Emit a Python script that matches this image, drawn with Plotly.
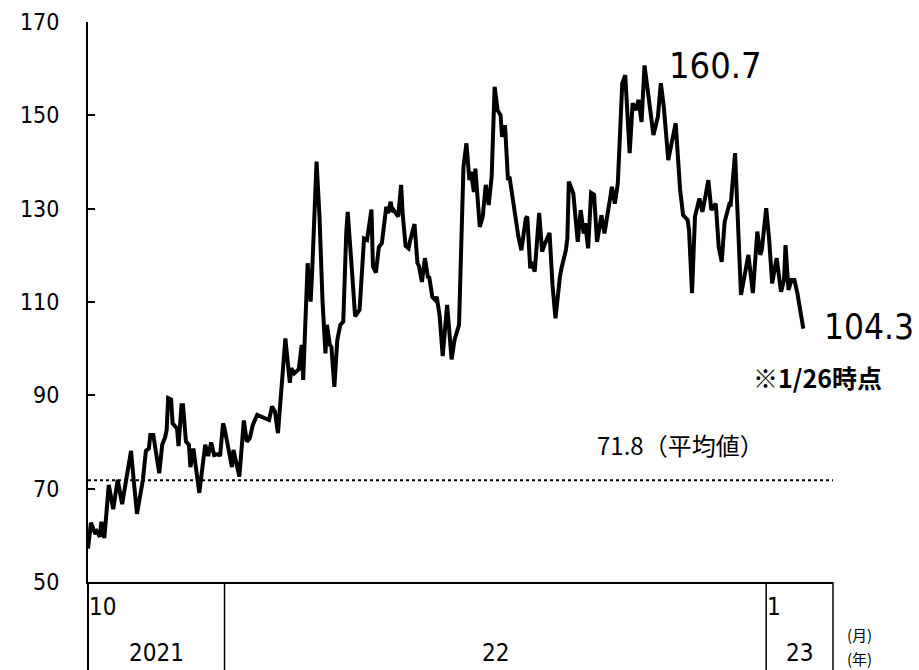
import pandas as pd
import plotly.graph_objects as go

# ---- data ----
start_date = "2021-10-01"
end_of_axis = "2023-02-15"
day_offsets = [
    0, 2, 5, 6, 8, 9, 11, 14, 17, 20,
    23, 25, 29, 31, 33, 37, 39, 41, 42, 44,
    47, 48, 50, 52, 53, 54, 56, 57, 60, 61,
    63, 64, 66, 68, 69, 71, 75, 78, 79, 81,
    83, 85, 88, 89, 91, 92, 95, 97, 98, 100,
    102, 105, 107, 109, 111, 114, 118, 122, 124, 126,
    128, 133, 136, 137, 139, 142, 144, 145, 148, 150,
    151, 154, 156, 158, 160, 161, 163, 164, 166, 168,
    170, 172, 174, 175, 178, 180, 183, 186, 188, 191,
    192, 194, 196, 198, 201, 202, 204, 205, 206, 209,
    211, 212, 214, 216, 217, 220, 222, 223, 225, 227,
    229, 230, 232, 234, 235, 237, 239, 242, 245, 247,
    250, 253, 255, 257, 258, 260, 261, 264, 266, 268,
    270, 272, 274, 276, 278, 279, 281, 283, 284, 287,
    290, 292, 295, 296, 298, 299, 301, 304, 306, 308,
    311, 313, 315, 318, 319, 322, 323, 324, 327, 330,
    332, 334, 335, 337, 339, 341, 343, 346, 348, 352,
    353, 355, 357, 360, 362, 365, 367, 369, 371, 373,
    375, 378, 381, 384, 386, 388, 391, 393, 396, 399,
    401, 404, 405, 407, 409, 412, 414, 416, 418, 420,
    423, 425, 427, 429, 432, 433, 436, 440, 443, 445,
    448, 451, 453, 454, 457, 459, 461, 464, 467, 469,
    470, 472, 474, 476, 478, 482,
]
values = [
    57.2, 62.7, 60.3, 60.8, 59.7, 62.9, 59.4, 70.8, 65.6, 71.9,
    66.7, 70.4, 78.1, 71.1, 64.6, 71.9, 78.1, 78.6, 81.5, 81.5,
    74.4, 73.3, 79.4, 81.1, 82.6, 89.4, 89.1, 84.0, 82.9, 79.1,
    87.9, 87.9, 80.1, 79.4, 74.6, 78.6, 69.1, 76.5, 79.4, 77.0,
    79.9, 77.2, 77.4, 77.0, 84.0, 82.9, 77.9, 74.6, 78.3, 75.1,
    72.6, 84.6, 80.1, 80.8, 83.6, 85.8, 85.3, 84.7, 87.6, 86.5,
    81.9, 102.2, 92.7, 95.8, 94.7, 95.6, 100.8, 93.3, 118.3, 110.1,
    116.1, 140.1, 128.3, 110.4, 99.0, 105.1, 100.8, 100.4, 91.8, 101.9,
    105.1, 105.8, 124.7, 129.3, 116.1, 106.9, 108.3, 123.6, 123.3, 129.8,
    117.6, 116.3, 121.8, 122.6, 130.4, 129.0, 131.5, 129.3, 129.7, 128.3,
    135.1, 129.0, 122.0, 121.5, 123.1, 126.7, 118.3, 117.7, 114.3, 119.4,
    115.4, 115.2, 111.1, 110.4, 111.1, 106.9, 98.4, 109.4, 97.7, 101.9,
    105.1, 139.0, 144.0, 136.1, 137.9, 133.6, 138.6, 126.1, 128.3, 135.1,
    130.8, 136.9, 156.1, 151.1, 150.0, 145.4, 147.9, 136.1, 136.9, 129.7,
    124.0, 121.1, 127.9, 128.3, 117.2, 118.6, 116.5, 129.1, 120.8, 122.6,
    124.8, 113.6, 106.5, 115.4, 117.2, 121.1, 123.6, 135.8, 133.3, 122.9,
    129.7, 124.7, 126.9, 121.5, 133.4, 133.0, 122.9, 128.6, 124.7, 132.6,
    134.7, 131.1, 135.4, 156.9, 158.6, 141.9, 152.6, 151.1, 153.3, 148.6,
    160.7, 153.3, 145.8, 149.7, 156.9, 151.8, 140.4, 143.6, 148.3, 134.0,
    128.6, 127.6, 125.4, 111.9, 128.3, 132.2, 129.3, 132.6, 136.1, 129.7,
    131.1, 121.8, 118.6, 127.2, 130.8, 130.5, 141.9, 111.5, 116.9, 120.1,
    111.9, 125.1, 120.1, 121.1, 130.1, 123.3, 114.0, 119.4, 112.2, 114.7,
    122.2, 112.6, 114.7, 114.7, 111.9, 104.3,
]
average_value = 71.8
y_ticks = [50, 70, 90, 110, 130, 150, 170]
month_labels = ["10", "1"]
month_dates = ["2021-10-01", "2023-01-01"]
year_labels = ["2021", "22", "23"]
year_bounds = ["2021-10-01", "2022-01-01", "2023-01-01", end_of_axis]
unit_labels = ["(月)", "(年)"]

# ---- build ----
dates = pd.Timestamp(start_date) + pd.to_timedelta(day_offsets, unit="D")
series = pd.Series(values, index=dates)
peak_date = series.idxmax()
peak_value = series.max()
last_date = series.index[-1]
last_value = series.iloc[-1]

NUM_FONT = "Liberation Sans Narrow, DejaVu Sans Condensed, Liberation Sans, sans-serif"
JP_FONT = "Noto Sans CJK JP, sans-serif"

fig = go.Figure()
fig.add_trace(go.Scatter(
    x=dates, y=values, mode="lines",
    line=dict(color="black", width=4),
    hoverinfo="skip",
))

shapes = [
    dict(type="line", xref="x domain", x0=0, x1=1, yref="y",
         y0=average_value, y1=average_value,
         line=dict(color="black", width=2, dash="dot")),
]
box_bottom = -88 / 560
for b in year_bounds[1:-1]:
    shapes.append(dict(type="line", xref="x", x0=b, x1=b, yref="paper",
                       y0=0, y1=box_bottom, line=dict(color="black", width=1.5)))
shapes.append(dict(type="line", xref="paper", x0=0, x1=0, yref="paper",
                   y0=0, y1=box_bottom, line=dict(color="black", width=2)))
shapes.append(dict(type="line", xref="paper", x0=1, x1=1, yref="paper",
                   y0=0, y1=box_bottom, line=dict(color="black", width=1.5)))

annotations = []
for lab, d in zip(month_labels, month_dates):
    annotations.append(dict(x=d, xref="x", y=-25 / 560, yref="paper",
                            text=lab, showarrow=False, xanchor="left",
                            yanchor="middle", xshift=-1,
                            font=dict(family=NUM_FONT, size=24, color="black")))
for lab, a, b in zip(year_labels, year_bounds[:-1], year_bounds[1:]):
    mid = pd.Timestamp(a) + (pd.Timestamp(b) - pd.Timestamp(a)) / 2
    annotations.append(dict(x=mid, xref="x", y=-71 / 560, yref="paper",
                            text=lab, showarrow=False, xanchor="center",
                            yanchor="middle",
                            font=dict(family=NUM_FONT, size=24, color="black")))
for lab, ypix in zip(unit_labels, [52, 76]):
    annotations.append(dict(x=1, xref="paper", xshift=12, y=-ypix / 560,
                            yref="paper", text=lab, showarrow=False,
                            xanchor="left", yanchor="middle",
                            font=dict(family=JP_FONT, size=15, color="black")))
annotations += [
    dict(x=peak_date, y=peak_value, text=f"{peak_value:.1f}", showarrow=False,
         xanchor="left", yanchor="middle", xshift=22, yshift=0,
         font=dict(family=NUM_FONT, size=36, color="black")),
    dict(x=last_date, y=last_value, text=f"{last_value:.1f}", showarrow=False,
         xanchor="left", yanchor="middle", xshift=19, yshift=2,
         font=dict(family=NUM_FONT, size=35, color="black")),
    dict(x=last_date, y=last_value, text="<b>※1/26時点</b>", showarrow=False,
         xanchor="left", yanchor="middle", xshift=-52, yshift=-48,
         font=dict(family=JP_FONT, size=25, color="black")),
    dict(x=(595 - 88) / 745, xref="paper", y=average_value, yref="y",
         text=f"{average_value}（平均値）", showarrow=False,
         xanchor="left", yanchor="middle", yshift=36,
         font=dict(family=JP_FONT, size=24, color="black")),
]

fig.update_layout(
    width=919, height=670,
    margin=dict(l=88, r=86, t=22, b=88),
    paper_bgcolor="white", plot_bgcolor="white",
    showlegend=False,
    shapes=shapes, annotations=annotations,
    xaxis=dict(type="date", range=[start_date, end_of_axis], automargin=False,
               showgrid=False, zeroline=False, showticklabels=False,
               ticks="", showline=True, linecolor="black", linewidth=2),
    yaxis=dict(range=[50, 170], tickvals=y_ticks, ticks="inside", ticklen=7,
               tickwidth=1.5, tickcolor="black", showline=True, automargin=False,
               linecolor="black", linewidth=2, showgrid=False, zeroline=False,
               ticklabelstandoff=22,
               tickfont=dict(family=NUM_FONT, size=23, color="black")),
)

fig.write_html("out.html")
